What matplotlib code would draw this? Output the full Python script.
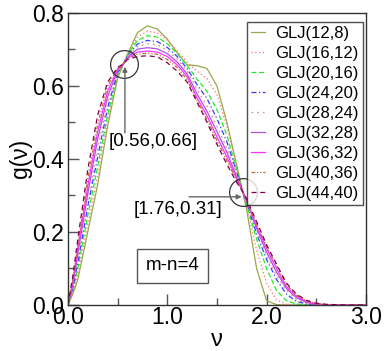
import matplotlib
matplotlib.use('Agg')
import matplotlib.pyplot as plt
from matplotlib.ticker import MultipleLocator, FormatStrFormatter

plt.rcParams['font.family'] = ['Liberation Sans', 'DejaVu Sans']

# nu grid (shared by all curves)
nu = [0.0, 0.05, 0.1, 0.2, 0.3, 0.4, 0.5, 0.56, 0.6, 0.7, 0.8, 0.9, 1.0, 1.1, 1.2, 1.3,
      1.4, 1.5, 1.6, 1.7, 1.76, 1.8, 1.9, 2.0, 2.1, 2.2, 2.3, 2.4, 2.5, 2.6, 2.8, 3.0]

labels = ['GLJ(12,8)', 'GLJ(16,12)', 'GLJ(20,16)', 'GLJ(24,20)', 'GLJ(28,24)',
          'GLJ(32,28)', 'GLJ(36,32)', 'GLJ(40,36)', 'GLJ(44,40)']

g_12_8 = [0, 0.03, 0.07, 0.20, 0.33, 0.49, 0.62, 0.66, 0.686, 0.745, 0.764, 0.755, 0.728, 0.690, 0.657, 0.655,
          0.647, 0.600, 0.500, 0.382, 0.31, 0.26, 0.10, 0.012, 0.001, 0, 0, 0, 0, 0, 0, 0]
g_16_12 = [0, 0.035, 0.085, 0.22, 0.355, 0.505, 0.625, 0.66, 0.685, 0.733, 0.749, 0.745, 0.725, 0.695, 0.665, 0.640,
           0.620, 0.575, 0.490, 0.378, 0.31, 0.27, 0.15, 0.06, 0.014, 0.002, 0, 0, 0, 0, 0, 0]
g_20_16 = [0, 0.04, 0.10, 0.245, 0.38, 0.52, 0.63, 0.66, 0.684, 0.724, 0.737, 0.733, 0.715, 0.688, 0.655, 0.618,
           0.585, 0.535, 0.465, 0.370, 0.31, 0.275, 0.18, 0.10, 0.04, 0.012, 0.003, 0, 0, 0, 0, 0]
g_24_20 = [0, 0.045, 0.115, 0.27, 0.405, 0.54, 0.635, 0.66, 0.682, 0.714, 0.724, 0.721, 0.705, 0.680, 0.647, 0.603,
           0.565, 0.510, 0.447, 0.363, 0.31, 0.28, 0.195, 0.125, 0.07, 0.03, 0.01, 0.003, 0, 0, 0, 0]
g_28_24 = [0, 0.05, 0.125, 0.285, 0.43, 0.555, 0.638, 0.66, 0.680, 0.707, 0.715, 0.712, 0.697, 0.673, 0.640, 0.590,
           0.545, 0.490, 0.430, 0.357, 0.31, 0.283, 0.205, 0.135, 0.08, 0.04, 0.015, 0.005, 0.001, 0, 0, 0]
g_32_28 = [0, 0.055, 0.14, 0.305, 0.455, 0.57, 0.642, 0.66, 0.678, 0.700, 0.704, 0.701, 0.688, 0.665, 0.632, 0.578,
           0.530, 0.475, 0.418, 0.350, 0.31, 0.285, 0.21, 0.145, 0.09, 0.045, 0.02, 0.007, 0.002, 0, 0, 0]
g_36_32 = [0, 0.065, 0.155, 0.325, 0.475, 0.585, 0.645, 0.66, 0.676, 0.692, 0.695, 0.692, 0.680, 0.657, 0.625, 0.567,
           0.518, 0.460, 0.405, 0.345, 0.31, 0.287, 0.215, 0.155, 0.10, 0.05, 0.024, 0.009, 0.003, 0.001, 0, 0]
g_40_36 = [0, 0.07, 0.165, 0.345, 0.495, 0.60, 0.648, 0.66, 0.674, 0.686, 0.689, 0.686, 0.672, 0.650, 0.617, 0.560,
           0.508, 0.450, 0.395, 0.340, 0.31, 0.288, 0.222, 0.16, 0.108, 0.055, 0.027, 0.011, 0.004, 0.001, 0, 0]
g_44_40 = [0, 0.08, 0.18, 0.37, 0.52, 0.61, 0.65, 0.66, 0.672, 0.680, 0.682, 0.679, 0.663, 0.640, 0.610, 0.555,
           0.500, 0.440, 0.385, 0.335, 0.31, 0.29, 0.228, 0.165, 0.112, 0.06, 0.03, 0.013, 0.005, 0.002, 0, 0]

curves = [g_12_8, g_16_12, g_20_16, g_24_20, g_28_24, g_32_28, g_36_32, g_40_36, g_44_40]

colors = ['#9aa84c', '#ff7070', '#22ee22', '#3a3aff', '#d09a9a',
          '#b050e0', '#ff30ff', '#c06a30', '#800050']
styles = ['-', (0, (1, 2)), (0, (4, 2)), (0, (4, 2, 1, 2)), (0, (1.5, 3)),
          '-', '-', (0, (3, 1.5, 1, 1.5, 1, 1.5)), (0, (4, 3))]

cross_pts = [(0.56, 0.66), (1.76, 0.31)]
cross_txt = ['[0.56,0.66]', '[1.76,0.31]']

fig = plt.figure(figsize=(3.88, 3.51), dpi=100)
ax = fig.add_axes([0.175, 0.131, 0.768, 0.833])

for g, c, ls, lab in zip(curves, colors, styles, labels):
    ax.plot(nu, g, color=c, linestyle=ls, lw=0.9, label=lab)

# circles around crossing points
for px, py in cross_pts:
    ax.plot(px, py, 'o', ms=20, mfc='none', mec='#333333', mew=0.9)

arr = dict(arrowstyle='-|>', color='#666666', lw=1, mutation_scale=7, shrinkA=0, shrinkB=0)
# vertical arrow up to first crossing
ax.annotate('', xy=(0.574, 0.652), xytext=(0.574, 0.471), arrowprops=arr)
ax.text(0.86, 0.448, cross_txt[0], ha='center', va='center', fontsize=13.5)
# horizontal arrow to second crossing
ax.annotate('', xy=(1.75, 0.296), xytext=(1.22, 0.296), arrowprops=arr)
ax.text(1.11, 0.261, cross_txt[1], ha='center', va='center', fontsize=13.5)

ax.text(1.05, 0.107, 'm-n=4', ha='center', va='center', fontsize=13.5,
        bbox=dict(boxstyle='square,pad=0.45', fc='white', ec='#555555', lw=1))

ax.set_xlim(0, 3)
ax.set_ylim(0, 0.8)
ax.xaxis.set_major_locator(MultipleLocator(1.0))
ax.xaxis.set_minor_locator(MultipleLocator(0.5))
ax.yaxis.set_major_locator(MultipleLocator(0.2))
ax.yaxis.set_minor_locator(MultipleLocator(0.1))
ax.xaxis.set_major_formatter(FormatStrFormatter('%.1f'))
ax.yaxis.set_major_formatter(FormatStrFormatter('%.1f'))
ax.tick_params(which='both', direction='in', labelsize=16.5, color='#555555')
ax.tick_params(which='major', length=8, width=1)
ax.tick_params(which='minor', length=5, width=1)
ax.tick_params(axis='x', pad=1)
ax.tick_params(axis='y', pad=3)
for s in ax.spines.values():
    s.set_color('#333333')
    s.set_linewidth(1)

ax.set_xlabel('ν', fontsize=17, labelpad=0)
ax.set_ylabel('g(ν)', fontsize=16.5, labelpad=0)

leg = ax.legend(loc='upper right', bbox_to_anchor=(0.99, 0.968), fontsize=12,
                handlelength=0.85, handletextpad=0.6, labelspacing=0.3,
                borderpad=0.25, borderaxespad=0, frameon=True, fancybox=False)
leg.get_frame().set_edgecolor('#222222')
leg.get_frame().set_linewidth(1)

fig.savefig('out.png', dpi=100)
